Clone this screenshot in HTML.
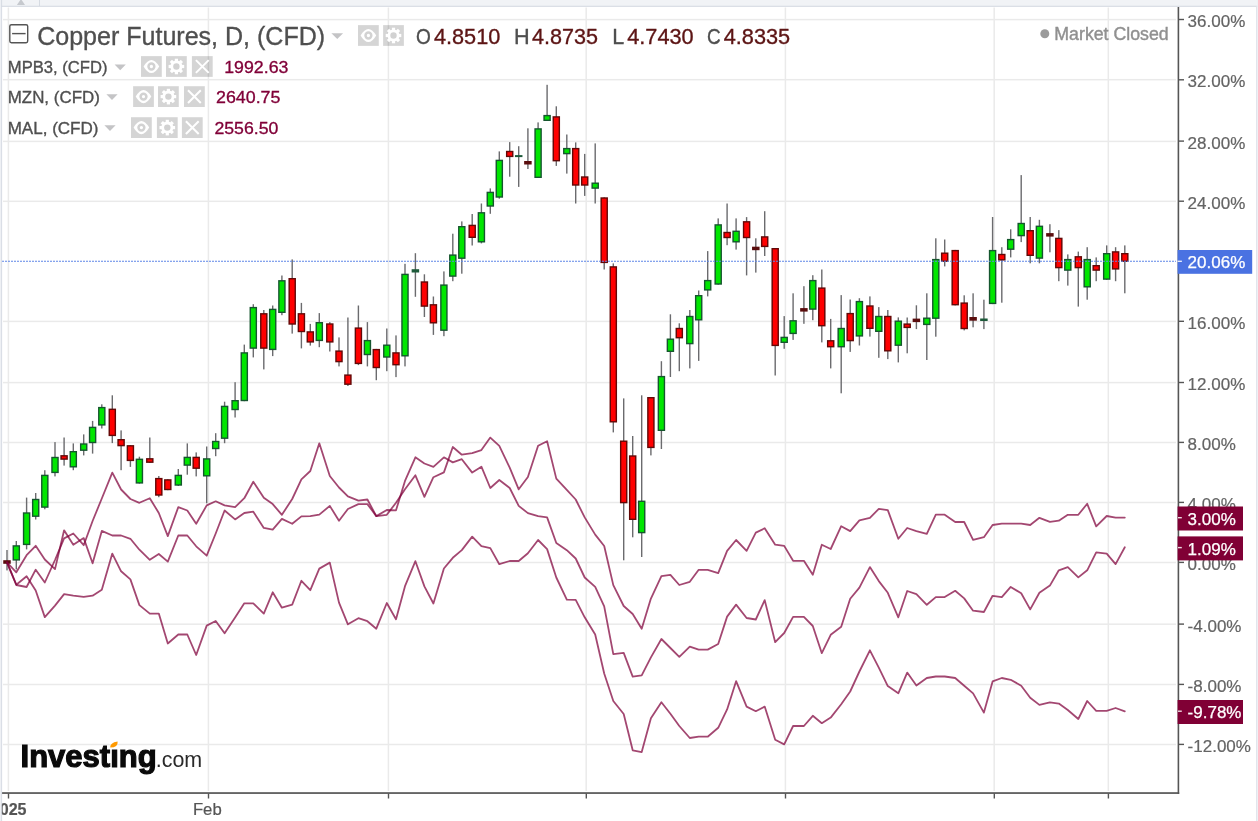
<!DOCTYPE html>
<html lang="en"><head><meta charset="utf-8"><title>Copper Futures Chart</title>
<style>
html,body{margin:0;padding:0;background:#fff;}
body{width:1258px;height:821px;overflow:hidden;position:relative;}
svg{position:absolute;left:0;top:0;display:block;}
text{font-family:"Liberation Sans",Arial,sans-serif;}
.ax{fill:#646464;stroke:#646464;stroke-width:0.2px;}
.axw{fill:#fff;stroke:#fff;stroke-width:0.25px;}
.xl{fill:#555;stroke:#555;stroke-width:0.2px;}
.lg{fill:#4f4f4f;stroke:#4f4f4f;stroke-width:0.35px;}
.mv{fill:#800038;stroke:#800038;stroke-width:0.3px;}
.ov{fill:#5c1414;stroke:#5c1414;stroke-width:0.35px;}
</style></head><body>
<svg width="1258" height="821" viewBox="0 0 1258 821">
<rect x="0" y="0" width="1258" height="821" fill="#fff"/>
<rect x="0" y="0" width="1258" height="6.3" fill="#f1f3f6"/>
<rect x="1257" y="0" width="1" height="821" fill="#eef0f4"/>
<rect x="1.2" y="5.8" width="1256" height="1" fill="#d3d8e0"/>
<rect x="1256" y="6" width="0.9" height="815" fill="#dfe3ea"/>
<rect x="39" y="0" width="0.9" height="6" fill="#d3d8e0"/>
<path d="M16.9 4.9 L25 4.9 L21 -1 Z" fill="#c6c9ce"/>
<g fill="#eaeaea">
<rect x="3" y="18.85" width="1173" height="1.5"/>
<rect x="3" y="78.95" width="1173" height="1.5"/>
<rect x="3" y="140.65" width="1173" height="1.5"/>
<rect x="3" y="200.55" width="1173" height="1.5"/>
<rect x="3" y="320.65" width="1173" height="1.5"/>
<rect x="3" y="381.85" width="1173" height="1.5"/>
<rect x="3" y="441.75" width="1173" height="1.5"/>
<rect x="3" y="501.75" width="1173" height="1.5"/>
<rect x="3" y="561.75" width="1173" height="1.5"/>
<rect x="3" y="623.45" width="1173" height="1.5"/>
<rect x="3" y="683.75" width="1173" height="1.5"/>
<rect x="3" y="743.75" width="1173" height="1.5"/>
<rect x="7.65" y="7.5" width="1.5" height="783.5"/>
<rect x="207.65" y="7.5" width="1.5" height="783.5"/>
<rect x="387.65" y="7.5" width="1.5" height="783.5"/>
<rect x="585.45" y="7.5" width="1.5" height="783.5"/>
<rect x="784.65" y="7.5" width="1.5" height="783.5"/>
<rect x="993.45" y="7.5" width="1.5" height="783.5"/>
<rect x="1107.55" y="7.5" width="1.5" height="783.5"/>
</g>
<g>
<rect x="6.30" y="550.0" width="1.4" height="20.4" fill="#6b6b6e"/>
<rect x="3.25" y="560.2" width="7.5" height="3.6" fill="#5a0d0d"/>
<rect x="15.60" y="541.0" width="1.4" height="28.4" fill="#6b6b6e"/>
<rect x="12.55" y="545.2" width="7.5" height="15.4" fill="#15562e"/>
<rect x="13.95" y="546.6" width="4.7" height="12.6" fill="#00e600"/>
<rect x="25.90" y="497.6" width="1.4" height="51.8" fill="#6b6b6e"/>
<rect x="22.85" y="512.3" width="7.5" height="32.8" fill="#15562e"/>
<rect x="24.25" y="513.7" width="4.7" height="30.0" fill="#00e600"/>
<rect x="35.00" y="493.0" width="1.4" height="26.5" fill="#6b6b6e"/>
<rect x="31.95" y="498.8" width="7.5" height="18.1" fill="#15562e"/>
<rect x="33.35" y="500.2" width="4.7" height="15.3" fill="#00e600"/>
<rect x="44.10" y="470.2" width="1.4" height="39.1" fill="#6b6b6e"/>
<rect x="41.05" y="474.7" width="7.5" height="33.1" fill="#15562e"/>
<rect x="42.45" y="476.1" width="4.7" height="30.3" fill="#00e600"/>
<rect x="54.30" y="442.1" width="1.4" height="34.3" fill="#6b6b6e"/>
<rect x="51.25" y="456.8" width="7.5" height="16.3" fill="#15562e"/>
<rect x="52.65" y="458.2" width="4.7" height="13.5" fill="#00e600"/>
<rect x="63.40" y="437.5" width="1.4" height="28.1" fill="#6b6b6e"/>
<rect x="60.35" y="455.1" width="7.5" height="4.7" fill="#620807"/>
<rect x="61.75" y="456.5" width="4.7" height="1.9" fill="#ff0000"/>
<rect x="72.60" y="443.4" width="1.4" height="26.8" fill="#6b6b6e"/>
<rect x="69.55" y="451.0" width="7.5" height="16.5" fill="#15562e"/>
<rect x="70.95" y="452.4" width="4.7" height="13.7" fill="#00e600"/>
<rect x="83.00" y="434.4" width="1.4" height="21.0" fill="#6b6b6e"/>
<rect x="79.95" y="443.3" width="7.5" height="7.6" fill="#15562e"/>
<rect x="81.35" y="444.7" width="4.7" height="4.8" fill="#00e600"/>
<rect x="91.90" y="420.9" width="1.4" height="32.7" fill="#6b6b6e"/>
<rect x="88.85" y="426.7" width="7.5" height="16.5" fill="#15562e"/>
<rect x="90.25" y="428.1" width="4.7" height="13.7" fill="#00e600"/>
<rect x="101.10" y="404.3" width="1.4" height="24.2" fill="#6b6b6e"/>
<rect x="98.05" y="406.9" width="7.5" height="18.7" fill="#15562e"/>
<rect x="99.45" y="408.3" width="4.7" height="15.9" fill="#00e600"/>
<rect x="111.60" y="395.3" width="1.4" height="47.8" fill="#6b6b6e"/>
<rect x="108.55" y="408.6" width="7.5" height="27.5" fill="#620807"/>
<rect x="109.95" y="410.0" width="4.7" height="24.7" fill="#ff0000"/>
<rect x="120.40" y="430.4" width="1.4" height="39.8" fill="#6b6b6e"/>
<rect x="117.35" y="439.0" width="7.5" height="7.3" fill="#620807"/>
<rect x="118.75" y="440.4" width="4.7" height="4.5" fill="#ff0000"/>
<rect x="129.70" y="445.1" width="1.4" height="21.8" fill="#6b6b6e"/>
<rect x="126.65" y="445.1" width="7.5" height="16.0" fill="#620807"/>
<rect x="128.05" y="446.5" width="4.7" height="13.2" fill="#ff0000"/>
<rect x="138.70" y="456.7" width="1.4" height="26.9" fill="#6b6b6e"/>
<rect x="135.65" y="458.6" width="7.5" height="25.0" fill="#15562e"/>
<rect x="137.05" y="460.0" width="4.7" height="22.2" fill="#00e600"/>
<rect x="149.10" y="437.5" width="1.4" height="25.4" fill="#6b6b6e"/>
<rect x="146.05" y="458.1" width="7.5" height="4.8" fill="#620807"/>
<rect x="147.45" y="459.5" width="4.7" height="2.0" fill="#ff0000"/>
<rect x="158.10" y="476.0" width="1.4" height="21.2" fill="#6b6b6e"/>
<rect x="155.05" y="477.9" width="7.5" height="17.8" fill="#620807"/>
<rect x="156.45" y="479.3" width="4.7" height="15.0" fill="#ff0000"/>
<rect x="167.10" y="479.2" width="1.4" height="11.0" fill="#6b6b6e"/>
<rect x="164.05" y="479.2" width="7.5" height="11.0" fill="#620807"/>
<rect x="165.45" y="480.6" width="4.7" height="8.2" fill="#ff0000"/>
<rect x="177.60" y="469.0" width="1.4" height="17.0" fill="#6b6b6e"/>
<rect x="174.55" y="474.7" width="7.5" height="11.0" fill="#15562e"/>
<rect x="175.95" y="476.1" width="4.7" height="8.2" fill="#00e600"/>
<rect x="186.60" y="443.4" width="1.4" height="31.3" fill="#6b6b6e"/>
<rect x="183.55" y="456.7" width="7.5" height="9.1" fill="#15562e"/>
<rect x="184.95" y="458.1" width="4.7" height="6.3" fill="#00e600"/>
<rect x="195.50" y="452.4" width="1.4" height="24.0" fill="#6b6b6e"/>
<rect x="192.45" y="456.7" width="7.5" height="12.2" fill="#620807"/>
<rect x="193.85" y="458.1" width="4.7" height="9.4" fill="#ff0000"/>
<rect x="206.00" y="446.5" width="1.4" height="56.8" fill="#6b6b6e"/>
<rect x="202.95" y="458.2" width="7.5" height="18.3" fill="#15562e"/>
<rect x="204.35" y="459.6" width="4.7" height="15.5" fill="#00e600"/>
<rect x="215.00" y="433.2" width="1.4" height="23.0" fill="#6b6b6e"/>
<rect x="211.95" y="440.8" width="7.5" height="8.4" fill="#15562e"/>
<rect x="213.35" y="442.2" width="4.7" height="5.6" fill="#00e600"/>
<rect x="223.90" y="401.7" width="1.4" height="41.5" fill="#6b6b6e"/>
<rect x="220.85" y="405.7" width="7.5" height="33.2" fill="#15562e"/>
<rect x="222.25" y="407.1" width="4.7" height="30.4" fill="#00e600"/>
<rect x="234.40" y="382.2" width="1.4" height="35.3" fill="#6b6b6e"/>
<rect x="231.35" y="400.0" width="7.5" height="10.2" fill="#15562e"/>
<rect x="232.75" y="401.4" width="4.7" height="7.4" fill="#00e600"/>
<rect x="243.60" y="344.6" width="1.4" height="56.6" fill="#6b6b6e"/>
<rect x="240.55" y="352.2" width="7.5" height="49.0" fill="#15562e"/>
<rect x="241.95" y="353.6" width="4.7" height="46.2" fill="#00e600"/>
<rect x="252.60" y="304.2" width="1.4" height="53.2" fill="#6b6b6e"/>
<rect x="249.55" y="306.9" width="7.5" height="41.9" fill="#15562e"/>
<rect x="250.95" y="308.3" width="4.7" height="39.1" fill="#00e600"/>
<rect x="263.10" y="310.0" width="1.4" height="59.4" fill="#6b6b6e"/>
<rect x="260.05" y="313.1" width="7.5" height="35.7" fill="#620807"/>
<rect x="261.45" y="314.5" width="4.7" height="32.9" fill="#ff0000"/>
<rect x="272.00" y="305.5" width="1.4" height="50.6" fill="#6b6b6e"/>
<rect x="268.95" y="308.7" width="7.5" height="41.4" fill="#15562e"/>
<rect x="270.35" y="310.1" width="4.7" height="38.6" fill="#00e600"/>
<rect x="281.20" y="275.5" width="1.4" height="39.7" fill="#6b6b6e"/>
<rect x="278.15" y="280.1" width="7.5" height="32.9" fill="#15562e"/>
<rect x="279.55" y="281.5" width="4.7" height="30.1" fill="#00e600"/>
<rect x="291.50" y="259.4" width="1.4" height="74.2" fill="#6b6b6e"/>
<rect x="288.45" y="278.0" width="7.5" height="46.7" fill="#620807"/>
<rect x="289.85" y="279.4" width="4.7" height="43.9" fill="#ff0000"/>
<rect x="300.70" y="302.9" width="1.4" height="45.5" fill="#6b6b6e"/>
<rect x="297.65" y="313.1" width="7.5" height="19.1" fill="#620807"/>
<rect x="299.05" y="314.5" width="4.7" height="16.3" fill="#ff0000"/>
<rect x="309.60" y="323.9" width="1.4" height="21.7" fill="#6b6b6e"/>
<rect x="306.55" y="331.2" width="7.5" height="11.4" fill="#620807"/>
<rect x="307.95" y="332.6" width="4.7" height="8.6" fill="#ff0000"/>
<rect x="318.60" y="313.1" width="1.4" height="34.1" fill="#6b6b6e"/>
<rect x="315.55" y="322.0" width="7.5" height="19.1" fill="#15562e"/>
<rect x="316.95" y="323.4" width="4.7" height="16.3" fill="#00e600"/>
<rect x="329.10" y="322.1" width="1.4" height="29.4" fill="#6b6b6e"/>
<rect x="326.05" y="323.3" width="7.5" height="19.3" fill="#620807"/>
<rect x="327.45" y="324.7" width="4.7" height="16.5" fill="#ff0000"/>
<rect x="338.30" y="337.4" width="1.4" height="29.0" fill="#6b6b6e"/>
<rect x="335.25" y="350.4" width="7.5" height="11.9" fill="#620807"/>
<rect x="336.65" y="351.8" width="4.7" height="9.1" fill="#ff0000"/>
<rect x="347.20" y="317.5" width="1.4" height="68.5" fill="#6b6b6e"/>
<rect x="344.15" y="374.4" width="7.5" height="10.5" fill="#620807"/>
<rect x="345.55" y="375.8" width="4.7" height="7.7" fill="#ff0000"/>
<rect x="357.70" y="305.5" width="1.4" height="59.6" fill="#6b6b6e"/>
<rect x="354.65" y="327.4" width="7.5" height="36.7" fill="#620807"/>
<rect x="356.05" y="328.8" width="4.7" height="33.9" fill="#ff0000"/>
<rect x="366.70" y="322.1" width="1.4" height="44.3" fill="#6b6b6e"/>
<rect x="363.65" y="339.9" width="7.5" height="15.3" fill="#15562e"/>
<rect x="365.05" y="341.3" width="4.7" height="12.5" fill="#00e600"/>
<rect x="375.60" y="348.9" width="1.4" height="31.3" fill="#6b6b6e"/>
<rect x="372.55" y="348.9" width="7.5" height="19.3" fill="#620807"/>
<rect x="373.95" y="350.3" width="4.7" height="16.5" fill="#ff0000"/>
<rect x="386.10" y="328.5" width="1.4" height="42.7" fill="#6b6b6e"/>
<rect x="383.05" y="344.5" width="7.5" height="13.2" fill="#15562e"/>
<rect x="384.45" y="345.9" width="4.7" height="10.4" fill="#00e600"/>
<rect x="395.30" y="335.4" width="1.4" height="41.7" fill="#6b6b6e"/>
<rect x="392.25" y="352.2" width="7.5" height="13.2" fill="#620807"/>
<rect x="393.65" y="353.6" width="4.7" height="10.4" fill="#ff0000"/>
<rect x="404.30" y="263.8" width="1.4" height="102.6" fill="#6b6b6e"/>
<rect x="401.25" y="273.7" width="7.5" height="82.8" fill="#15562e"/>
<rect x="402.65" y="275.1" width="4.7" height="80.0" fill="#00e600"/>
<rect x="414.70" y="253.2" width="1.4" height="43.6" fill="#6b6b6e"/>
<rect x="411.65" y="269.2" width="7.5" height="3.3" fill="#1d5a3a"/>
<rect x="423.70" y="274.3" width="1.4" height="42.7" fill="#6b6b6e"/>
<rect x="420.65" y="281.3" width="7.5" height="25.5" fill="#620807"/>
<rect x="422.05" y="282.7" width="4.7" height="22.7" fill="#ff0000"/>
<rect x="432.70" y="296.5" width="1.4" height="38.4" fill="#6b6b6e"/>
<rect x="429.65" y="304.1" width="7.5" height="19.4" fill="#620807"/>
<rect x="431.05" y="305.5" width="4.7" height="16.6" fill="#ff0000"/>
<rect x="443.20" y="271.4" width="1.4" height="64.8" fill="#6b6b6e"/>
<rect x="440.15" y="284.4" width="7.5" height="46.5" fill="#15562e"/>
<rect x="441.55" y="285.8" width="4.7" height="43.7" fill="#00e600"/>
<rect x="452.10" y="233.7" width="1.4" height="47.5" fill="#6b6b6e"/>
<rect x="449.05" y="254.4" width="7.5" height="22.4" fill="#15562e"/>
<rect x="450.45" y="255.8" width="4.7" height="19.6" fill="#00e600"/>
<rect x="461.10" y="221.4" width="1.4" height="52.3" fill="#6b6b6e"/>
<rect x="458.05" y="226.0" width="7.5" height="32.9" fill="#15562e"/>
<rect x="459.45" y="227.4" width="4.7" height="30.1" fill="#00e600"/>
<rect x="471.50" y="214.0" width="1.4" height="31.5" fill="#6b6b6e"/>
<rect x="468.45" y="224.7" width="7.5" height="13.3" fill="#620807"/>
<rect x="469.85" y="226.1" width="4.7" height="10.5" fill="#ff0000"/>
<rect x="480.70" y="203.5" width="1.4" height="39.9" fill="#6b6b6e"/>
<rect x="477.65" y="212.1" width="7.5" height="30.4" fill="#15562e"/>
<rect x="479.05" y="213.5" width="4.7" height="27.6" fill="#00e600"/>
<rect x="489.60" y="188.4" width="1.4" height="25.4" fill="#6b6b6e"/>
<rect x="486.55" y="191.7" width="7.5" height="15.0" fill="#15562e"/>
<rect x="487.95" y="193.1" width="4.7" height="12.2" fill="#00e600"/>
<rect x="498.60" y="151.4" width="1.4" height="47.3" fill="#6b6b6e"/>
<rect x="495.55" y="159.7" width="7.5" height="38.0" fill="#15562e"/>
<rect x="496.95" y="161.1" width="4.7" height="35.2" fill="#00e600"/>
<rect x="509.00" y="142.1" width="1.4" height="34.6" fill="#6b6b6e"/>
<rect x="505.95" y="150.8" width="7.5" height="6.3" fill="#620807"/>
<rect x="507.35" y="152.2" width="4.7" height="3.5" fill="#ff0000"/>
<rect x="518.00" y="146.2" width="1.4" height="40.7" fill="#6b6b6e"/>
<rect x="514.95" y="155.1" width="7.5" height="2.0" fill="#1d5a3a"/>
<rect x="527.20" y="128.3" width="1.4" height="40.7" fill="#6b6b6e"/>
<rect x="524.15" y="161.0" width="7.5" height="3.5" fill="#5a0d0d"/>
<rect x="537.40" y="122.4" width="1.4" height="55.6" fill="#6b6b6e"/>
<rect x="534.35" y="128.2" width="7.5" height="49.8" fill="#15562e"/>
<rect x="535.75" y="129.6" width="4.7" height="47.0" fill="#00e600"/>
<rect x="546.40" y="84.8" width="1.4" height="36.2" fill="#6b6b6e"/>
<rect x="543.35" y="114.9" width="7.5" height="6.1" fill="#15562e"/>
<rect x="544.75" y="116.3" width="4.7" height="3.3" fill="#00e600"/>
<rect x="555.60" y="106.3" width="1.4" height="59.6" fill="#6b6b6e"/>
<rect x="552.55" y="116.2" width="7.5" height="45.2" fill="#620807"/>
<rect x="553.95" y="117.6" width="4.7" height="42.4" fill="#ff0000"/>
<rect x="566.10" y="134.5" width="1.4" height="39.1" fill="#6b6b6e"/>
<rect x="563.05" y="147.9" width="7.5" height="6.4" fill="#15562e"/>
<rect x="564.45" y="149.3" width="4.7" height="3.6" fill="#00e600"/>
<rect x="575.00" y="142.4" width="1.4" height="61.1" fill="#6b6b6e"/>
<rect x="571.95" y="147.9" width="7.5" height="37.8" fill="#620807"/>
<rect x="573.35" y="149.3" width="4.7" height="35.0" fill="#ff0000"/>
<rect x="584.00" y="153.9" width="1.4" height="42.0" fill="#6b6b6e"/>
<rect x="580.95" y="176.3" width="7.5" height="9.4" fill="#620807"/>
<rect x="582.35" y="177.7" width="4.7" height="6.6" fill="#ff0000"/>
<rect x="594.50" y="143.4" width="1.4" height="60.1" fill="#6b6b6e"/>
<rect x="591.45" y="182.5" width="7.5" height="6.3" fill="#15562e"/>
<rect x="592.85" y="183.9" width="4.7" height="3.5" fill="#00e600"/>
<rect x="603.50" y="197.3" width="1.4" height="72.2" fill="#6b6b6e"/>
<rect x="600.45" y="197.3" width="7.5" height="65.8" fill="#620807"/>
<rect x="601.85" y="198.7" width="4.7" height="63.0" fill="#ff0000"/>
<rect x="612.60" y="263.4" width="1.4" height="169.0" fill="#6b6b6e"/>
<rect x="609.55" y="266.2" width="7.5" height="156.3" fill="#620807"/>
<rect x="610.95" y="267.6" width="4.7" height="153.5" fill="#ff0000"/>
<rect x="623.00" y="398.4" width="1.4" height="161.9" fill="#6b6b6e"/>
<rect x="619.95" y="440.5" width="7.5" height="62.8" fill="#620807"/>
<rect x="621.35" y="441.9" width="4.7" height="60.0" fill="#ff0000"/>
<rect x="632.00" y="436.0" width="1.4" height="101.3" fill="#6b6b6e"/>
<rect x="628.95" y="455.3" width="7.5" height="64.7" fill="#620807"/>
<rect x="630.35" y="456.7" width="4.7" height="61.9" fill="#ff0000"/>
<rect x="641.00" y="395.3" width="1.4" height="161.7" fill="#6b6b6e"/>
<rect x="637.95" y="500.6" width="7.5" height="32.7" fill="#15562e"/>
<rect x="639.35" y="502.0" width="4.7" height="29.9" fill="#00e600"/>
<rect x="650.20" y="397.0" width="1.4" height="58.4" fill="#6b6b6e"/>
<rect x="647.15" y="397.0" width="7.5" height="51.1" fill="#620807"/>
<rect x="648.55" y="398.4" width="4.7" height="48.3" fill="#ff0000"/>
<rect x="660.70" y="361.2" width="1.4" height="87.8" fill="#6b6b6e"/>
<rect x="657.65" y="375.9" width="7.5" height="55.1" fill="#15562e"/>
<rect x="659.05" y="377.3" width="4.7" height="52.3" fill="#00e600"/>
<rect x="669.70" y="314.3" width="1.4" height="62.7" fill="#6b6b6e"/>
<rect x="666.65" y="338.5" width="7.5" height="13.5" fill="#15562e"/>
<rect x="668.05" y="339.9" width="4.7" height="10.7" fill="#00e600"/>
<rect x="678.60" y="323.3" width="1.4" height="47.9" fill="#6b6b6e"/>
<rect x="675.55" y="327.8" width="7.5" height="10.6" fill="#620807"/>
<rect x="676.95" y="329.2" width="4.7" height="7.8" fill="#ff0000"/>
<rect x="689.10" y="310.0" width="1.4" height="58.4" fill="#6b6b6e"/>
<rect x="686.05" y="315.8" width="7.5" height="28.5" fill="#15562e"/>
<rect x="687.45" y="317.2" width="4.7" height="25.7" fill="#00e600"/>
<rect x="698.00" y="290.5" width="1.4" height="70.4" fill="#6b6b6e"/>
<rect x="694.95" y="295.0" width="7.5" height="25.5" fill="#15562e"/>
<rect x="696.35" y="296.4" width="4.7" height="22.7" fill="#00e600"/>
<rect x="707.00" y="251.1" width="1.4" height="45.3" fill="#6b6b6e"/>
<rect x="703.95" y="279.9" width="7.5" height="10.7" fill="#15562e"/>
<rect x="705.35" y="281.3" width="4.7" height="7.9" fill="#00e600"/>
<rect x="717.50" y="218.4" width="1.4" height="66.3" fill="#6b6b6e"/>
<rect x="714.45" y="224.2" width="7.5" height="60.5" fill="#15562e"/>
<rect x="715.85" y="225.6" width="4.7" height="57.7" fill="#00e600"/>
<rect x="726.40" y="203.5" width="1.4" height="41.7" fill="#6b6b6e"/>
<rect x="723.35" y="231.8" width="7.5" height="6.4" fill="#620807"/>
<rect x="724.75" y="233.2" width="4.7" height="3.6" fill="#ff0000"/>
<rect x="735.40" y="218.4" width="1.4" height="31.2" fill="#6b6b6e"/>
<rect x="732.35" y="230.6" width="7.5" height="11.9" fill="#15562e"/>
<rect x="733.75" y="232.0" width="4.7" height="9.1" fill="#00e600"/>
<rect x="745.90" y="217.1" width="1.4" height="58.3" fill="#6b6b6e"/>
<rect x="742.85" y="221.1" width="7.5" height="17.1" fill="#620807"/>
<rect x="744.25" y="222.5" width="4.7" height="14.3" fill="#ff0000"/>
<rect x="755.10" y="238.3" width="1.4" height="34.3" fill="#6b6b6e"/>
<rect x="752.05" y="246.7" width="7.5" height="3.5" fill="#5a0d0d"/>
<rect x="764.00" y="211.2" width="1.4" height="44.8" fill="#6b6b6e"/>
<rect x="760.95" y="236.2" width="7.5" height="10.9" fill="#620807"/>
<rect x="762.35" y="237.6" width="4.7" height="8.1" fill="#ff0000"/>
<rect x="774.50" y="248.0" width="1.4" height="127.5" fill="#6b6b6e"/>
<rect x="771.45" y="248.0" width="7.5" height="98.1" fill="#620807"/>
<rect x="772.85" y="249.4" width="4.7" height="95.3" fill="#ff0000"/>
<rect x="783.50" y="316.1" width="1.4" height="32.7" fill="#6b6b6e"/>
<rect x="780.45" y="336.7" width="7.5" height="6.3" fill="#15562e"/>
<rect x="781.85" y="338.1" width="4.7" height="3.5" fill="#00e600"/>
<rect x="792.40" y="293.3" width="1.4" height="46.6" fill="#6b6b6e"/>
<rect x="789.35" y="320.1" width="7.5" height="14.0" fill="#15562e"/>
<rect x="790.75" y="321.5" width="4.7" height="11.2" fill="#00e600"/>
<rect x="803.20" y="286.2" width="1.4" height="37.6" fill="#6b6b6e"/>
<rect x="800.15" y="308.1" width="7.5" height="3.5" fill="#5a0d0d"/>
<rect x="812.10" y="275.2" width="1.4" height="45.0" fill="#6b6b6e"/>
<rect x="809.05" y="279.9" width="7.5" height="29.9" fill="#15562e"/>
<rect x="810.45" y="281.3" width="4.7" height="27.1" fill="#00e600"/>
<rect x="821.10" y="269.5" width="1.4" height="72.9" fill="#6b6b6e"/>
<rect x="818.05" y="287.4" width="7.5" height="39.0" fill="#620807"/>
<rect x="819.45" y="288.8" width="4.7" height="36.2" fill="#ff0000"/>
<rect x="830.00" y="318.9" width="1.4" height="49.5" fill="#6b6b6e"/>
<rect x="826.95" y="340.1" width="7.5" height="7.3" fill="#620807"/>
<rect x="828.35" y="341.5" width="4.7" height="4.5" fill="#ff0000"/>
<rect x="840.50" y="295.1" width="1.4" height="98.2" fill="#6b6b6e"/>
<rect x="837.45" y="327.8" width="7.5" height="19.6" fill="#15562e"/>
<rect x="838.85" y="329.2" width="4.7" height="16.8" fill="#00e600"/>
<rect x="849.50" y="299.5" width="1.4" height="52.4" fill="#6b6b6e"/>
<rect x="846.45" y="312.9" width="7.5" height="28.4" fill="#620807"/>
<rect x="847.85" y="314.3" width="4.7" height="25.6" fill="#ff0000"/>
<rect x="858.70" y="298.2" width="1.4" height="47.3" fill="#6b6b6e"/>
<rect x="855.65" y="300.9" width="7.5" height="35.7" fill="#15562e"/>
<rect x="857.05" y="302.3" width="4.7" height="32.9" fill="#00e600"/>
<rect x="869.20" y="296.4" width="1.4" height="40.2" fill="#6b6b6e"/>
<rect x="866.15" y="305.3" width="7.5" height="23.7" fill="#620807"/>
<rect x="867.55" y="306.7" width="4.7" height="20.9" fill="#ff0000"/>
<rect x="878.10" y="307.1" width="1.4" height="50.7" fill="#6b6b6e"/>
<rect x="875.05" y="315.8" width="7.5" height="16.2" fill="#15562e"/>
<rect x="876.45" y="317.2" width="4.7" height="13.4" fill="#00e600"/>
<rect x="887.10" y="310.0" width="1.4" height="49.1" fill="#6b6b6e"/>
<rect x="884.05" y="315.8" width="7.5" height="35.7" fill="#620807"/>
<rect x="885.45" y="317.2" width="4.7" height="32.9" fill="#ff0000"/>
<rect x="897.60" y="317.4" width="1.4" height="45.0" fill="#6b6b6e"/>
<rect x="894.55" y="320.5" width="7.5" height="25.4" fill="#15562e"/>
<rect x="895.95" y="321.9" width="4.7" height="22.6" fill="#00e600"/>
<rect x="906.50" y="317.5" width="1.4" height="35.8" fill="#6b6b6e"/>
<rect x="903.45" y="323.4" width="7.5" height="4.7" fill="#620807"/>
<rect x="904.85" y="324.8" width="4.7" height="1.9" fill="#ff0000"/>
<rect x="915.70" y="305.3" width="1.4" height="23.8" fill="#6b6b6e"/>
<rect x="912.65" y="318.6" width="7.5" height="3.5" fill="#5a0d0d"/>
<rect x="926.10" y="293.3" width="1.4" height="66.7" fill="#6b6b6e"/>
<rect x="923.05" y="317.5" width="7.5" height="7.6" fill="#15562e"/>
<rect x="924.45" y="318.9" width="4.7" height="4.8" fill="#00e600"/>
<rect x="935.10" y="238.3" width="1.4" height="98.4" fill="#6b6b6e"/>
<rect x="932.05" y="258.9" width="7.5" height="60.0" fill="#15562e"/>
<rect x="933.45" y="260.3" width="4.7" height="57.2" fill="#00e600"/>
<rect x="944.00" y="239.5" width="1.4" height="26.9" fill="#6b6b6e"/>
<rect x="940.95" y="252.5" width="7.5" height="9.4" fill="#620807"/>
<rect x="942.35" y="253.9" width="4.7" height="6.6" fill="#ff0000"/>
<rect x="954.50" y="249.9" width="1.4" height="55.5" fill="#6b6b6e"/>
<rect x="951.45" y="249.9" width="7.5" height="55.5" fill="#620807"/>
<rect x="952.85" y="251.3" width="4.7" height="52.7" fill="#ff0000"/>
<rect x="963.50" y="295.3" width="1.4" height="35.1" fill="#6b6b6e"/>
<rect x="960.45" y="302.4" width="7.5" height="26.8" fill="#620807"/>
<rect x="961.85" y="303.8" width="4.7" height="24.0" fill="#ff0000"/>
<rect x="972.40" y="293.3" width="1.4" height="34.0" fill="#6b6b6e"/>
<rect x="969.35" y="317.0" width="7.5" height="3.7" fill="#5a0d0d"/>
<rect x="983.20" y="299.7" width="1.4" height="29.4" fill="#6b6b6e"/>
<rect x="980.15" y="318.5" width="7.5" height="2.5" fill="#1d5a3a"/>
<rect x="991.90" y="217.0" width="1.4" height="87.1" fill="#6b6b6e"/>
<rect x="988.85" y="249.9" width="7.5" height="54.2" fill="#15562e"/>
<rect x="990.25" y="251.3" width="4.7" height="51.4" fill="#00e600"/>
<rect x="1001.10" y="247.2" width="1.4" height="55.5" fill="#6b6b6e"/>
<rect x="998.05" y="253.8" width="7.5" height="6.8" fill="#620807"/>
<rect x="999.45" y="255.2" width="4.7" height="4.0" fill="#ff0000"/>
<rect x="1010.00" y="229.3" width="1.4" height="28.1" fill="#6b6b6e"/>
<rect x="1006.95" y="238.9" width="7.5" height="11.0" fill="#15562e"/>
<rect x="1008.35" y="240.3" width="4.7" height="8.2" fill="#00e600"/>
<rect x="1020.50" y="175.1" width="1.4" height="67.0" fill="#6b6b6e"/>
<rect x="1017.45" y="222.8" width="7.5" height="13.5" fill="#15562e"/>
<rect x="1018.85" y="224.2" width="4.7" height="10.7" fill="#00e600"/>
<rect x="1029.50" y="217.0" width="1.4" height="46.3" fill="#6b6b6e"/>
<rect x="1026.45" y="230.0" width="7.5" height="26.0" fill="#620807"/>
<rect x="1027.85" y="231.4" width="4.7" height="23.2" fill="#ff0000"/>
<rect x="1038.70" y="219.8" width="1.4" height="43.5" fill="#6b6b6e"/>
<rect x="1035.65" y="225.6" width="7.5" height="33.2" fill="#15562e"/>
<rect x="1037.05" y="227.0" width="4.7" height="30.4" fill="#00e600"/>
<rect x="1049.20" y="224.2" width="1.4" height="28.1" fill="#6b6b6e"/>
<rect x="1046.15" y="233.1" width="7.5" height="3.5" fill="#5a0d0d"/>
<rect x="1058.10" y="230.1" width="1.4" height="51.1" fill="#6b6b6e"/>
<rect x="1055.05" y="237.7" width="7.5" height="30.6" fill="#620807"/>
<rect x="1056.45" y="239.1" width="4.7" height="27.8" fill="#ff0000"/>
<rect x="1067.10" y="254.4" width="1.4" height="31.2" fill="#6b6b6e"/>
<rect x="1064.05" y="258.9" width="7.5" height="11.9" fill="#15562e"/>
<rect x="1065.45" y="260.3" width="4.7" height="9.1" fill="#00e600"/>
<rect x="1077.60" y="251.6" width="1.4" height="55.0" fill="#6b6b6e"/>
<rect x="1074.55" y="256.1" width="7.5" height="12.2" fill="#620807"/>
<rect x="1075.95" y="257.5" width="4.7" height="9.4" fill="#ff0000"/>
<rect x="1086.50" y="247.2" width="1.4" height="52.5" fill="#6b6b6e"/>
<rect x="1083.45" y="258.9" width="7.5" height="28.6" fill="#15562e"/>
<rect x="1084.85" y="260.3" width="4.7" height="25.8" fill="#00e600"/>
<rect x="1095.50" y="257.4" width="1.4" height="23.8" fill="#6b6b6e"/>
<rect x="1092.45" y="265.0" width="7.5" height="5.8" fill="#620807"/>
<rect x="1093.85" y="266.4" width="4.7" height="3.0" fill="#ff0000"/>
<rect x="1106.00" y="245.4" width="1.4" height="34.4" fill="#6b6b6e"/>
<rect x="1102.95" y="253.0" width="7.5" height="26.8" fill="#15562e"/>
<rect x="1104.35" y="254.4" width="4.7" height="24.0" fill="#00e600"/>
<rect x="1114.90" y="247.2" width="1.4" height="34.0" fill="#6b6b6e"/>
<rect x="1111.85" y="251.2" width="7.5" height="18.4" fill="#620807"/>
<rect x="1113.25" y="252.6" width="4.7" height="15.6" fill="#ff0000"/>
<rect x="1124.10" y="245.4" width="1.4" height="47.9" fill="#6b6b6e"/>
<rect x="1121.05" y="253.0" width="7.5" height="8.9" fill="#620807"/>
<rect x="1122.45" y="254.4" width="4.7" height="6.1" fill="#ff0000"/>
</g>
<line x1="2" y1="261.3" x2="1176" y2="261.3" stroke="#5f86e8" stroke-width="1.1" stroke-dasharray="2 1"/>
<g fill="none" stroke="#80003a" stroke-opacity="0.72" stroke-width="1.8" stroke-linejoin="round" stroke-linecap="round">
<polyline points="7.0,562.3 16.3,572.3 26.6,555.2 35.7,545.8 44.8,559.5 55.0,569.1 64.1,530.3 73.3,544.8 83.7,538.1 92.6,563.3 101.8,530.9 112.3,535.5 121.1,535.5 130.4,538.8 139.4,549.7 149.8,559.8 158.8,554.0 167.8,561.6 178.3,535.5 187.3,535.5 196.2,546.3 206.7,555.7 215.7,533.5 224.6,510.5 235.1,519.4 244.3,513.0 253.3,511.7 263.8,527.9 272.7,529.7 281.9,518.9 292.2,523.8 301.4,516.4 310.3,516.1 319.3,514.6 329.8,505.9 339.0,520.8 347.9,509.0 358.4,504.1 367.4,504.1 376.3,516.1 386.8,514.8 396.0,502.7 405.0,489.2 415.4,475.3 424.4,496.9 433.4,477.2 443.9,472.4 452.8,447.0 461.8,454.7 472.2,453.2 481.4,450.1 490.3,437.6 499.3,445.8 509.7,467.6 518.7,489.3 527.9,477.0 538.1,445.8 547.1,441.2 556.3,478.6 566.8,489.8 575.7,499.5 584.7,517.4 595.2,534.6 604.2,546.0 613.3,585.1 623.7,606.0 632.7,614.0 641.7,628.8 650.9,598.6 661.4,576.1 670.4,574.8 679.3,585.0 689.8,581.8 698.7,569.8 707.7,569.8 718.2,573.2 727.1,550.8 736.1,540.0 746.6,550.8 755.8,532.6 764.7,528.3 775.2,544.7 784.2,545.9 793.1,560.8 803.9,560.8 812.8,574.8 821.8,544.7 830.7,549.0 841.2,526.2 850.2,531.1 859.4,520.4 869.9,517.8 878.8,508.8 887.8,510.1 898.3,538.8 907.2,528.0 916.4,531.1 926.8,533.9 935.8,514.7 944.7,514.7 955.2,522.0 964.2,522.0 973.1,539.9 983.9,537.2 992.6,525.0 1001.8,523.7 1010.7,523.7 1021.2,523.7 1030.2,525.0 1039.4,517.8 1049.9,521.9 1058.8,520.7 1067.8,514.8 1078.3,514.8 1087.2,503.8 1096.2,526.3 1106.7,516.0 1115.6,517.6 1124.8,517.6"/>
<polyline points="7.0,562.3 16.3,585.0 26.6,587.0 35.7,569.7 44.8,582.5 55.0,560.0 64.1,538.4 73.3,533.5 83.7,545.2 92.6,521.0 101.8,498.5 112.3,472.6 121.1,489.5 130.4,499.0 139.4,502.8 149.8,498.2 158.8,513.0 167.8,536.1 178.3,507.1 187.3,510.5 196.2,523.8 206.7,505.4 215.7,501.3 224.6,505.4 235.1,507.1 244.3,498.2 253.3,481.8 263.8,497.7 272.7,504.1 281.9,514.8 292.2,499.0 301.4,479.3 310.3,471.0 319.3,443.3 329.8,476.0 339.0,487.5 347.9,496.4 358.4,500.7 367.4,499.5 376.3,516.1 386.8,510.0 396.0,510.3 405.0,480.9 415.4,457.3 424.4,463.5 433.4,466.8 443.9,457.3 452.8,462.4 461.8,459.2 472.2,472.6 481.4,466.7 490.3,488.0 499.3,480.0 509.7,488.0 518.7,505.9 527.9,513.1 538.1,516.2 547.1,517.4 556.3,543.0 566.8,550.2 575.7,558.5 584.7,577.5 595.2,586.8 604.2,606.3 613.3,654.1 623.7,652.9 632.7,676.6 641.7,675.4 650.9,657.4 661.4,639.0 670.4,648.0 679.3,656.9 689.8,646.6 698.7,649.6 707.7,649.6 718.2,644.0 727.1,616.6 736.1,604.6 746.6,618.0 755.8,619.5 764.7,600.1 775.2,642.2 784.2,633.0 793.1,616.9 803.9,616.9 812.8,626.0 821.8,653.2 830.7,634.8 841.2,626.8 850.2,598.7 859.4,587.6 869.9,567.1 878.8,581.1 887.8,592.8 898.3,617.3 907.2,591.0 916.4,594.2 926.8,604.8 935.8,597.1 944.7,597.1 955.2,590.8 964.2,598.4 973.1,610.7 983.9,612.0 992.6,595.8 1001.8,597.1 1010.7,586.9 1021.2,593.3 1030.2,609.4 1039.4,592.8 1049.9,585.6 1058.8,570.3 1067.8,567.2 1078.3,577.4 1087.2,570.3 1096.2,552.4 1106.7,553.7 1115.6,564.1 1124.8,547.3"/>
<polyline points="7.0,562.4 16.3,584.7 26.6,576.2 35.7,590.5 44.8,617.1 55.0,605.6 64.1,594.1 73.3,595.7 83.7,596.9 92.6,595.7 101.8,589.8 112.3,553.6 121.1,571.3 130.4,579.4 139.4,605.1 149.8,613.6 158.8,613.6 167.8,643.5 178.3,634.5 187.3,634.5 196.2,655.0 206.7,625.6 215.7,621.0 224.6,633.3 235.1,617.4 244.3,603.3 253.3,603.3 263.8,613.6 272.7,592.3 281.9,607.7 292.2,604.6 301.4,580.8 310.3,590.2 319.3,568.6 329.8,562.6 339.0,602.6 347.9,624.3 358.4,618.2 367.4,621.2 376.3,628.7 386.8,603.0 396.0,619.3 405.0,586.2 415.4,561.2 424.4,586.4 433.4,603.5 443.9,568.5 452.8,557.8 461.8,550.1 472.2,536.6 481.4,546.1 490.3,548.1 499.3,564.2 509.7,561.0 518.7,561.0 527.9,553.3 538.1,540.0 547.1,549.1 556.3,577.5 566.8,599.6 575.7,599.9 584.7,617.3 595.2,634.5 604.2,673.5 613.3,701.0 623.7,714.0 632.7,750.3 641.7,752.1 650.9,718.3 661.4,702.2 670.4,713.7 679.3,726.0 689.8,738.0 698.7,736.7 707.7,736.7 718.2,727.8 727.1,709.4 736.1,681.2 746.6,706.6 755.8,711.2 764.7,706.6 775.2,739.8 784.2,744.4 793.1,726.0 803.9,726.0 812.8,715.8 821.8,723.2 830.7,717.6 841.2,704.3 850.2,691.5 859.4,671.5 869.9,650.3 878.8,667.7 887.8,686.1 898.3,693.3 907.2,672.6 916.4,685.6 926.8,678.0 935.8,676.5 944.7,676.5 955.2,678.0 964.2,685.7 973.1,693.4 983.9,712.6 992.6,681.4 1001.8,678.0 1010.7,679.8 1021.2,685.7 1030.2,697.7 1039.4,704.9 1049.9,702.3 1058.8,703.6 1067.8,710.0 1078.3,719.0 1087.2,701.0 1096.2,710.8 1106.7,710.8 1115.6,708.0 1124.8,711.3"/>
</g>
<rect x="1177.6" y="7" width="1.6" height="787" fill="#555"/>
<rect x="2" y="792.2" width="1177.2" height="1.7" fill="#555"/>
<rect x="1179" y="18.8" width="5" height="1.4" fill="#555"/>
<text class="ax" x="1187.6" y="26.9" font-size="17">36.00%</text>
<rect x="1179" y="79.1" width="5" height="1.4" fill="#555"/>
<text class="ax" x="1187.6" y="87.2" font-size="17">32.00%</text>
<rect x="1179" y="140.4" width="5" height="1.4" fill="#555"/>
<text class="ax" x="1187.6" y="148.5" font-size="17">28.00%</text>
<rect x="1179" y="200.5" width="5" height="1.4" fill="#555"/>
<text class="ax" x="1187.6" y="208.6" font-size="17">24.00%</text>
<rect x="1179" y="320.6" width="5" height="1.4" fill="#555"/>
<text class="ax" x="1187.6" y="328.7" font-size="17">16.00%</text>
<rect x="1179" y="381.8" width="5" height="1.4" fill="#555"/>
<text class="ax" x="1187.6" y="389.9" font-size="17">12.00%</text>
<rect x="1179" y="441.7" width="5" height="1.4" fill="#555"/>
<text class="ax" x="1187.6" y="449.8" font-size="17">8.00%</text>
<rect x="1179" y="501.7" width="5" height="1.4" fill="#555"/>
<text class="ax" x="1187.6" y="509.8" font-size="17">4.00%</text>
<rect x="1179" y="561.7" width="5" height="1.4" fill="#555"/>
<text class="ax" x="1187.6" y="569.8" font-size="17">0.00%</text>
<rect x="1179" y="623.4" width="5" height="1.4" fill="#555"/>
<text class="ax" x="1187.6" y="631.5" font-size="17">-4.00%</text>
<rect x="1179" y="683.7" width="5" height="1.4" fill="#555"/>
<text class="ax" x="1187.6" y="691.8" font-size="17">-8.00%</text>
<rect x="1179" y="743.7" width="5" height="1.4" fill="#555"/>
<text class="ax" x="1187.6" y="751.8" font-size="17">-12.00%</text>
<rect x="7.8" y="793.5" width="1.4" height="5" fill="#555"/>
<rect x="207.8" y="793.5" width="1.4" height="5" fill="#555"/>
<rect x="387.8" y="793.5" width="1.4" height="5" fill="#555"/>
<rect x="585.6" y="793.5" width="1.4" height="5" fill="#555"/>
<rect x="784.8" y="793.5" width="1.4" height="5" fill="#555"/>
<rect x="993.6" y="793.5" width="1.4" height="5" fill="#555"/>
<rect x="1107.7" y="793.5" width="1.4" height="5" fill="#555"/>
<text x="-9.16" y="814.7" font-size="16" textLength="35.7" lengthAdjust="spacingAndGlyphs" font-weight="bold" class="xl">2025</text>
<text x="192.93" y="814.7" font-size="16" textLength="28.77" lengthAdjust="spacingAndGlyphs" class="xl">Feb</text>
<rect x="1177.6" y="250" width="74.6" height="23.8" fill="#4a72e2"/>
<rect x="1177.6" y="260.6" width="4.3" height="1.4" fill="#fff" fill-opacity="0.85"/>
<text class="axw" x="1187.6" y="268.2" font-size="17">20.06%</text>
<rect x="1177.6" y="506.5" width="65.4" height="24" fill="#800035"/>
<rect x="1178" y="517.0" width="3.8" height="1.4" fill="#fff" fill-opacity="0.85"/>
<text class="axw" x="1187.6" y="524.6" font-size="17">3.00%</text>
<rect x="1177.6" y="536.4" width="65.4" height="24" fill="#800035"/>
<rect x="1178" y="546.9" width="3.8" height="1.4" fill="#fff" fill-opacity="0.85"/>
<text class="axw" x="1187.6" y="554.5" font-size="17">1.09%</text>
<rect x="1177.6" y="700.0" width="65.4" height="24" fill="#800035"/>
<rect x="1178" y="710.5" width="3.8" height="1.4" fill="#fff" fill-opacity="0.85"/>
<text class="axw" x="1187.6" y="718.1" font-size="17">-9.78%</text>
<rect x="9.8" y="24.7" width="17.9" height="18" rx="1.6" ry="1.6" fill="#fff" stroke="#555" stroke-width="1.4"/>
<rect x="12.1" y="32.9" width="13.5" height="1.4" fill="#555"/>
<text x="37.13" y="44.9" font-size="26.5" textLength="288.02" lengthAdjust="spacingAndGlyphs" class="lg">Copper Futures, D, (CFD)</text>
<path d="M331.4 33.2 L343.1 33.2 L337.25 39 Z" fill="#c4c4c6"/>
<rect x="358" y="25.1" width="20.8" height="20.8" fill="#000" fill-opacity="0.165"/>
<path d="M360.59999999999997 35.5 Q364.4 28.9 368.4 28.9 Q372.4 28.9 376.2 35.5 Q372.4 42.1 368.4 42.1 Q364.4 42.1 360.59999999999997 35.5 Z" fill="#fff"/>
<circle cx="368.4" cy="35.5" r="2.9" fill="none" stroke="#d2d2d2" stroke-width="2.5"/>
<rect x="383.1" y="25.1" width="20.8" height="20.8" fill="#000" fill-opacity="0.165"/>
<g fill="#fff">
<rect x="391.9" y="27.7" width="3.2" height="15.6" transform="rotate(0 393.5 35.5)"/>
<rect x="391.9" y="27.7" width="3.2" height="15.6" transform="rotate(45 393.5 35.5)"/>
<rect x="391.9" y="27.7" width="3.2" height="15.6" transform="rotate(90 393.5 35.5)"/>
<rect x="391.9" y="27.7" width="3.2" height="15.6" transform="rotate(135 393.5 35.5)"/>
<circle cx="393.5" cy="35.5" r="6"/>
</g>
<circle cx="393.5" cy="35.5" r="3.2" fill="#d2d2d2"/>
<text x="416.0" y="43.8" font-size="22" textLength="14.81" lengthAdjust="spacingAndGlyphs" class="lg">O</text>
<text x="433.9" y="43.8" font-size="22" textLength="66.45" lengthAdjust="spacingAndGlyphs" class="ov">4.8510</text>
<text x="514.12" y="43.8" font-size="22" textLength="15.64" lengthAdjust="spacingAndGlyphs" class="lg">H</text>
<text x="532.1" y="43.8" font-size="22" textLength="66.0" lengthAdjust="spacingAndGlyphs" class="ov">4.8735</text>
<text x="612.23" y="43.8" font-size="22" textLength="11.98" lengthAdjust="spacingAndGlyphs" class="lg">L</text>
<text x="627.2" y="43.8" font-size="22" textLength="66.45" lengthAdjust="spacingAndGlyphs" class="ov">4.7430</text>
<text x="707.04" y="43.8" font-size="22" textLength="13.68" lengthAdjust="spacingAndGlyphs" class="lg">C</text>
<text x="723.7" y="43.8" font-size="22" textLength="66.51" lengthAdjust="spacingAndGlyphs" class="ov">4.8335</text>
<circle cx="1044.8" cy="33.7" r="4.5" fill="#9a9a9a"/>
<text x="1054.34" y="40" font-size="17.6" textLength="114.4" lengthAdjust="spacingAndGlyphs" fill="#909090" stroke="#909090" stroke-width="0.4">Market Closed</text>
<text x="7.84" y="72.8" font-size="17.2" textLength="99.69" lengthAdjust="spacingAndGlyphs" class="lg">MPB3, (CFD)</text>
<path d="M114.6 64.5 L125.8 64.5 L120.19999999999999 70.2 Z" fill="#c4c4c6"/>
<rect x="141" y="56.1" width="20.8" height="20.8" fill="#000" fill-opacity="0.165"/>
<path d="M143.6 66.5 Q147.4 59.9 151.4 59.9 Q155.4 59.9 159.20000000000002 66.5 Q155.4 73.1 151.4 73.1 Q147.4 73.1 143.6 66.5 Z" fill="#fff"/>
<circle cx="151.4" cy="66.5" r="2.9" fill="none" stroke="#d2d2d2" stroke-width="2.5"/>
<rect x="166" y="56.1" width="20.8" height="20.8" fill="#000" fill-opacity="0.165"/>
<g fill="#fff">
<rect x="174.8" y="58.7" width="3.2" height="15.6" transform="rotate(0 176.4 66.5)"/>
<rect x="174.8" y="58.7" width="3.2" height="15.6" transform="rotate(45 176.4 66.5)"/>
<rect x="174.8" y="58.7" width="3.2" height="15.6" transform="rotate(90 176.4 66.5)"/>
<rect x="174.8" y="58.7" width="3.2" height="15.6" transform="rotate(135 176.4 66.5)"/>
<circle cx="176.4" cy="66.5" r="6"/>
</g>
<circle cx="176.4" cy="66.5" r="3.2" fill="#d2d2d2"/>
<rect x="191.9" y="56.1" width="20.8" height="20.8" fill="#000" fill-opacity="0.165"/>
<path d="M195.9 60.1 L208.70000000000002 72.9 M208.70000000000002 60.1 L195.9 72.9" stroke="#fff" stroke-width="2" fill="none"/>
<text x="224.25" y="73.2" font-size="16.8" textLength="64.13" lengthAdjust="spacingAndGlyphs" class="mv">1992.63</text>
<text x="7.71" y="102.5" font-size="17.2" textLength="92.14" lengthAdjust="spacingAndGlyphs" class="lg">MZN, (CFD)</text>
<path d="M106.4 94.2 L117.60000000000001 94.2 L112.0 99.9 Z" fill="#c4c4c6"/>
<rect x="133.1" y="86.2" width="20.8" height="20.8" fill="#000" fill-opacity="0.165"/>
<path d="M135.7 96.60000000000001 Q139.5 90.00000000000001 143.5 90.00000000000001 Q147.5 90.00000000000001 151.3 96.60000000000001 Q147.5 103.2 143.5 103.2 Q139.5 103.2 135.7 96.60000000000001 Z" fill="#fff"/>
<circle cx="143.5" cy="96.60000000000001" r="2.9" fill="none" stroke="#d2d2d2" stroke-width="2.5"/>
<rect x="158.0" y="86.2" width="20.8" height="20.8" fill="#000" fill-opacity="0.165"/>
<g fill="#fff">
<rect x="166.8" y="88.80000000000001" width="3.2" height="15.6" transform="rotate(0 168.4 96.60000000000001)"/>
<rect x="166.8" y="88.80000000000001" width="3.2" height="15.6" transform="rotate(45 168.4 96.60000000000001)"/>
<rect x="166.8" y="88.80000000000001" width="3.2" height="15.6" transform="rotate(90 168.4 96.60000000000001)"/>
<rect x="166.8" y="88.80000000000001" width="3.2" height="15.6" transform="rotate(135 168.4 96.60000000000001)"/>
<circle cx="168.4" cy="96.60000000000001" r="6"/>
</g>
<circle cx="168.4" cy="96.60000000000001" r="3.2" fill="#d2d2d2"/>
<rect x="184.0" y="86.2" width="20.8" height="20.8" fill="#000" fill-opacity="0.165"/>
<path d="M188.0 90.2 L200.8 103.00000000000001 M200.8 90.2 L188.0 103.00000000000001" stroke="#fff" stroke-width="2" fill="none"/>
<text x="216.0" y="102.9" font-size="16.8" textLength="64.45" lengthAdjust="spacingAndGlyphs" class="mv">2640.75</text>
<text x="7.7" y="133.5" font-size="17.2" textLength="90.75" lengthAdjust="spacingAndGlyphs" class="lg">MAL, (CFD)</text>
<path d="M104.4 125.2 L115.60000000000001 125.2 L110.0 130.9 Z" fill="#c4c4c6"/>
<rect x="131" y="117.2" width="20.8" height="20.8" fill="#000" fill-opacity="0.165"/>
<path d="M133.6 127.60000000000001 Q137.4 121.00000000000001 141.4 121.00000000000001 Q145.4 121.00000000000001 149.20000000000002 127.60000000000001 Q145.4 134.20000000000002 141.4 134.20000000000002 Q137.4 134.20000000000002 133.6 127.60000000000001 Z" fill="#fff"/>
<circle cx="141.4" cy="127.60000000000001" r="2.9" fill="none" stroke="#d2d2d2" stroke-width="2.5"/>
<rect x="156.9" y="117.2" width="20.8" height="20.8" fill="#000" fill-opacity="0.165"/>
<g fill="#fff">
<rect x="165.70000000000002" y="119.80000000000001" width="3.2" height="15.6" transform="rotate(0 167.3 127.60000000000001)"/>
<rect x="165.70000000000002" y="119.80000000000001" width="3.2" height="15.6" transform="rotate(45 167.3 127.60000000000001)"/>
<rect x="165.70000000000002" y="119.80000000000001" width="3.2" height="15.6" transform="rotate(90 167.3 127.60000000000001)"/>
<rect x="165.70000000000002" y="119.80000000000001" width="3.2" height="15.6" transform="rotate(135 167.3 127.60000000000001)"/>
<circle cx="167.3" cy="127.60000000000001" r="6"/>
</g>
<circle cx="167.3" cy="127.60000000000001" r="3.2" fill="#d2d2d2"/>
<rect x="181.9" y="117.2" width="20.8" height="20.8" fill="#000" fill-opacity="0.165"/>
<path d="M185.9 121.2 L198.70000000000002 134.0 M198.70000000000002 121.2 L185.9 134.0" stroke="#fff" stroke-width="2" fill="none"/>
<text x="214.41" y="133.9" font-size="16.8" textLength="63.98" lengthAdjust="spacingAndGlyphs" class="mv">2556.50</text>
<text x="20.53" y="767.1" font-size="32" textLength="136.15" lengthAdjust="spacingAndGlyphs" font-weight="bold" fill="#0a0a0a" stroke="#0a0a0a" stroke-width="1.2">Investing</text>
<text x="155.74" y="767.1" font-size="21.5" textLength="46.47" lengthAdjust="spacingAndGlyphs" fill="#2a2a2a">.com</text>
<rect x="109" y="740.5" width="10" height="7.6" fill="#fff"/>
<rect x="109" y="744.2" width="10" height="1" fill="#e7e7e7"/>
<path d="M110.2 747.6 Q109.8 742.6 117.6 741.4 Q118.4 747.2 110.2 747.6 Z" fill="#ff9a00"/>
<rect x="0" y="0" width="1.4" height="821" fill="#eef0f4"/>
<rect x="1.2" y="0" width="0.9" height="821" fill="#d3d8e0"/>
</svg>
</body></html>
